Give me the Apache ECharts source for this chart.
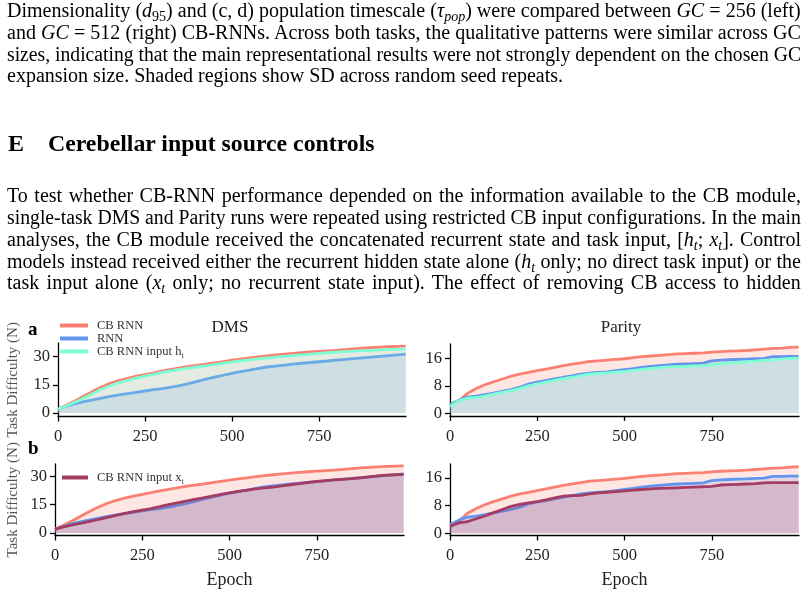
<!DOCTYPE html>
<html><head><meta charset="utf-8">
<script src="https://cdn.jsdelivr.net/npm/echarts@6/dist/echarts.min.js"></script>
<style>
html,body{margin:0;padding:0;background:#fff;}
#wrap{position:relative;width:807px;height:596px;overflow:hidden;background:#fff;}
#chart{position:absolute;left:0;top:0;width:807px;height:596px;}
.ln{position:absolute;left:7px;white-space:nowrap;font-family:"Liberation Serif","Times New Roman",serif;font-size:20px;line-height:22px;color:#000;transform-origin:0 50%;}
.ln sub{font-size:70%;vertical-align:-0.25em;line-height:0;}
.hd{font-weight:bold;font-size:24px;line-height:26px;}
</style></head>
<body>
<div id="wrap"><div id="chart"></div></div>
<script>
// ---------------- data ----------------
const epochs = [0,25,50,75,100,125,150,175,200,225,250,275,300,325,350,375,400,425,450,475,500,525,550,575,600,625,650,675,700,725,750,775,800,825,850,875,900,925,950,975,999];

const dmsCB  = [2.0,4.2,6.5,9.0,11.5,13.8,15.8,17.3,18.5,19.6,20.5,21.4,22.4,23.2,24.0,24.8,25.4,26.0,26.7,27.4,28.1,28.7,29.3,29.9,30.4,30.9,31.4,31.8,32.2,32.5,32.8,33.1,33.4,33.7,34.1,34.5,34.8,35.1,35.3,35.5,35.6];
const dmsRNN = [2.0,3.6,5.0,6.0,7.0,7.9,8.8,9.6,10.3,11.0,11.7,12.4,13.0,13.8,14.6,15.6,16.8,18.0,19.1,20.1,21.1,22.0,22.8,23.7,24.5,25.0,25.5,26.0,26.5,26.9,27.3,27.7,28.2,28.6,29.0,29.4,29.8,30.2,30.6,31.0,31.4];
const dmsHt  = [2.0,3.8,5.8,8.0,10.3,12.6,14.5,16.0,17.4,18.6,19.6,20.6,21.6,22.4,23.2,23.9,24.5,25.1,25.8,26.5,27.1,27.7,28.3,28.8,29.3,29.8,30.2,30.6,31.0,31.4,31.8,32.1,32.4,32.7,33.0,33.2,33.4,33.6,33.8,34.0,34.2];
const dmsXt  = [2.0,3.3,4.3,5.2,6.2,7.2,8.3,9.4,10.4,11.3,12.2,13.0,14.0,15.1,16.0,16.9,17.8,18.7,19.6,20.5,21.3,22.1,22.8,23.4,24.0,24.4,25.0,25.6,26.2,26.8,27.4,27.8,28.2,28.5,28.8,29.3,29.8,30.3,30.7,30.9,31.1];

const parCB  = [2.5,3.5,5.8,7.2,8.3,9.2,10.0,10.8,11.4,11.9,12.4,12.9,13.4,13.9,14.3,14.7,15.1,15.3,15.5,15.7,15.9,16.2,16.5,16.7,16.9,17.1,17.3,17.4,17.5,17.6,17.8,18.0,18.1,18.2,18.3,18.5,18.7,18.9,19.0,19.2,19.3];
const parRNN = [2.5,3.8,4.7,5.0,5.4,5.9,6.4,6.9,7.6,8.5,9.1,9.5,10.0,10.5,10.9,11.4,11.7,11.9,12.1,12.4,12.7,13.0,13.4,13.7,13.9,14.1,14.3,14.4,14.5,14.6,15.3,15.5,15.6,15.7,15.8,15.9,16.0,16.5,16.5,16.6,16.6];
const parHt  = [2.0,3.6,4.4,4.6,5.0,5.6,6.1,6.6,7.2,8.0,8.6,9.1,9.6,10.1,10.5,11.0,11.4,11.6,11.8,12.0,12.2,12.5,12.8,13.1,13.3,13.5,13.6,13.7,13.8,13.9,14.1,14.4,14.6,14.8,15.0,15.2,15.4,15.6,15.8,16.0,16.1];
const parXt  = [2.0,3.0,3.4,4.2,5.0,6.0,6.9,7.8,8.4,8.8,9.2,9.7,10.3,10.8,10.9,11.0,11.4,11.7,11.9,12.1,12.3,12.5,12.7,12.9,13.0,13.1,13.2,13.3,13.4,13.5,13.6,14.0,14.1,14.2,14.3,14.4,14.6,14.7,14.7,14.7,14.7];

const xTicks = [0,250,500,750];
const dmsYTicks = [0,15,30];
const parYTicks = [0,8,16];

const seriesNames = ['CB RNN','RNN','CB RNN input ht','CB RNN input xt'];
const panelTitles = ['DMS','Parity'];
const panelLetters = ['a','b'];
const yName = 'Task Difficulty (N)';
const xName = 'Epoch';

// ---------------- prose text ----------------
const prose = [
 {top:10, j:true, html:'Dimensionality (<i>d</i><sub>95</sub>) and (c, d) population timescale (<i>τ</i><sub><i>pop</i></sub>) were compared between <i>GC</i> = 256 (left)'},
 {top:32, j:true, html:'and <i>GC</i> = 512 (right) CB-RNNs. Across both tasks, the qualitative patterns were similar across GC'},
 {top:53.5, j:true, html:'sizes, indicating that the main representational results were not strongly dependent on the chosen GC'},
 {top:75, j:false, html:'expansion size. Shaded regions show SD across random seed repeats.'},
 {top:195, j:true, html:'To test whether CB-RNN performance depended on the information available to the CB module,'},
 {top:217, j:true, html:'single-task DMS and Parity runs were repeated using restricted CB input configurations. In the main'},
 {top:239, j:true, html:'analyses, the CB module received the concatenated recurrent state and task input, [<i>h<sub>t</sub></i>; <i>x<sub>t</sub></i>]. Control'},
 {top:260.5, j:true, html:'models instead received either the recurrent hidden state alone (<i>h<sub>t</sub></i> only; no direct task input) or the'},
 {top:282, j:true, html:'task input alone (<i>x<sub>t</sub></i> only; no recurrent state input). The effect of removing CB access to hidden'}
];
const wrap = document.getElementById('wrap');
const TW = 794;
prose.forEach(p => {
  const el = document.createElement('div');
  el.className = 'ln';
  el.style.top = (p.top - 11) + 'px';
  el.innerHTML = p.html;
  wrap.appendChild(el);
  if (p.j) {
    const w = el.offsetWidth;
    const n = el.textContent.split(' ').length - 1;
    if (w <= TW) {
      el.style.wordSpacing = ((TW - w) / n) + 'px';
    } else {
      el.style.transform = 'scaleX(' + (TW / w) + ')';
    }
  }
});
// heading
const hE = document.createElement('div');
hE.className = 'ln hd'; hE.style.left = '8px'; hE.style.top = (143 - 13) + 'px';
hE.textContent = 'E'; wrap.appendChild(hE);
const hT = document.createElement('div');
hT.className = 'ln hd'; hT.style.left = '48px'; hT.style.top = (143 - 13) + 'px';
hT.textContent = 'Cerebellar input source controls'; wrap.appendChild(hT);
const hs = 327 / hT.offsetWidth;
hT.style.transform = 'scaleX(' + hs + ')';

// ---------------- chart ----------------
const FONT = '"Liberation Serif","Times New Roman",serif';
const C = {cb:'#fa8072', rnn:'#6495ed', ht:'#7fffd4', xt:'#a33c60'};
const pair = v => epochs.map((e,i) => [e, v[i]]);

const grids = [
  {left:58, top:343, width:348, height:73.5},
  {left:450, top:344, width:349, height:72},
  {left:55, top:464, width:349, height:71.5},
  {left:450, top:464, width:349, height:71.5}
];
const yr = [[-1.9,37.3,dmsYTicks],[-0.8,20.2,parYTicks],[-1.3,36.6,dmsYTicks],[-0.65,20.1,parYTicks]];

const xAxes = grids.map((g,i) => ({
  type:'value', gridIndex:i, min:0, max:1000,
  axisLine:{show:true,onZero:false,lineStyle:{color:'#000',width:1.3}},
  axisTick:{show:true,customValues:xTicks,length:5,lineStyle:{color:'#000',width:1.3}},
  axisLabel:{customValues:xTicks,margin:12,fontSize:16.5,color:'#222',fontFamily:FONT},
  splitLine:{show:false},
  name: i>=2 ? xName : '', nameLocation:'middle', nameGap:36,
  nameTextStyle:{fontSize:18,color:'#222',fontFamily:FONT}
}));
const yAxes = grids.map((g,i) => ({
  type:'value', gridIndex:i, min:yr[i][0], max:yr[i][1],
  axisLine:{show:true,onZero:false,lineStyle:{color:'#000',width:1.3}},
  axisTick:{show:true,customValues:yr[i][2],length:5,lineStyle:{color:'#000',width:1.3}},
  axisLabel:{customValues:yr[i][2],margin:8,fontSize:16.5,color:'#222',fontFamily:FONT},
  splitLine:{show:false},
  name: (i===0||i===2) ? yName : '', nameLocation:'middle', nameRotate:90,
  nameGap: i===0 ? 37.5 : 34.5,
  nameTextStyle:{fontSize:15,color:'#555',fontFamily:FONT}
}));

function ser(name, color, vals, gi, z){
  return {type:'line', name:name, xAxisIndex:gi, yAxisIndex:gi, data:pair(vals),
    showSymbol:false, symbol:'none', z:z,
    lineStyle:{color:color,width:2.8}, itemStyle:{color:color},
    areaStyle:{color:color,opacity:0.2}, emphasis:{disabled:true}};
}
const series = [
  ser(seriesNames[0],C.cb,dmsCB,0,2), ser(seriesNames[1],C.rnn,dmsRNN,0,3), ser(seriesNames[2],C.ht,dmsHt,0,4),
  ser(seriesNames[0],C.cb,parCB,1,2), ser(seriesNames[1],C.rnn,parRNN,1,3), ser(seriesNames[2],C.ht,parHt,1,4),
  ser(seriesNames[0],C.cb,dmsCB,2,2), ser(seriesNames[1],C.rnn,dmsRNN,2,3), ser(seriesNames[3],C.xt,dmsXt,2,4),
  ser(seriesNames[0],C.cb,parCB,3,2), ser(seriesNames[1],C.rnn,parRNN,3,3), ser(seriesNames[3],C.xt,parXt,3,4)
];

const legFmt = n => {
  if (n === 'CB RNN input ht') return '{m|CB RNN input h}{s|t}';
  if (n === 'CB RNN input xt') return '{m|CB RNN input x}{s|t}';
  return '{m|' + n + '}';
};
const legRich = {
  m:{fontSize:12.5,fontFamily:FONT,color:'#333',lineHeight:16.3,padding:[0,0,0,4]},
  s:{fontSize:8,fontFamily:FONT,color:'#333',lineHeight:8,verticalAlign:'bottom'}
};

const chart = echarts.init(document.getElementById('chart'), null, {renderer:'canvas'});
chart.setOption({
  animation:false,
  backgroundColor:'transparent',
  grid: grids,
  xAxis: xAxes,
  yAxis: yAxes,
  legend: [
    {data:seriesNames.slice(0,3), orient:'vertical', left:60, top:319, padding:0, itemGap:0,
     icon:'rect', itemWidth:28, itemHeight:4, formatter:legFmt, textStyle:{rich:legRich}, selectedMode:false},
    {data:[seriesNames[3]], orient:'vertical', left:62, top:471, padding:0, itemGap:0,
     icon:'rect', itemWidth:26, itemHeight:4, formatter:legFmt, textStyle:{rich:legRich}, selectedMode:false}
  ],
  graphic: [
    {type:'text', x:230, y:327.5, style:{text:panelTitles[0], font:'17px '+FONT, fill:'#222', align:'center', verticalAlign:'middle', textAlign:'center', textVerticalAlign:'middle'}},
    {type:'text', x:621, y:327.5, style:{text:panelTitles[1], font:'17px '+FONT, fill:'#222', align:'center', verticalAlign:'middle', textAlign:'center', textVerticalAlign:'middle'}},
    {type:'text', x:28, y:330, style:{text:panelLetters[0], font:'bold 19px '+FONT, fill:'#000', align:'left', verticalAlign:'middle', textAlign:'left', textVerticalAlign:'middle'}},
    {type:'text', x:28, y:449, style:{text:panelLetters[1], font:'bold 19px '+FONT, fill:'#000', align:'left', verticalAlign:'middle', textAlign:'left', textVerticalAlign:'middle'}}
  ],
  series: series
});
</script>
</body></html>
